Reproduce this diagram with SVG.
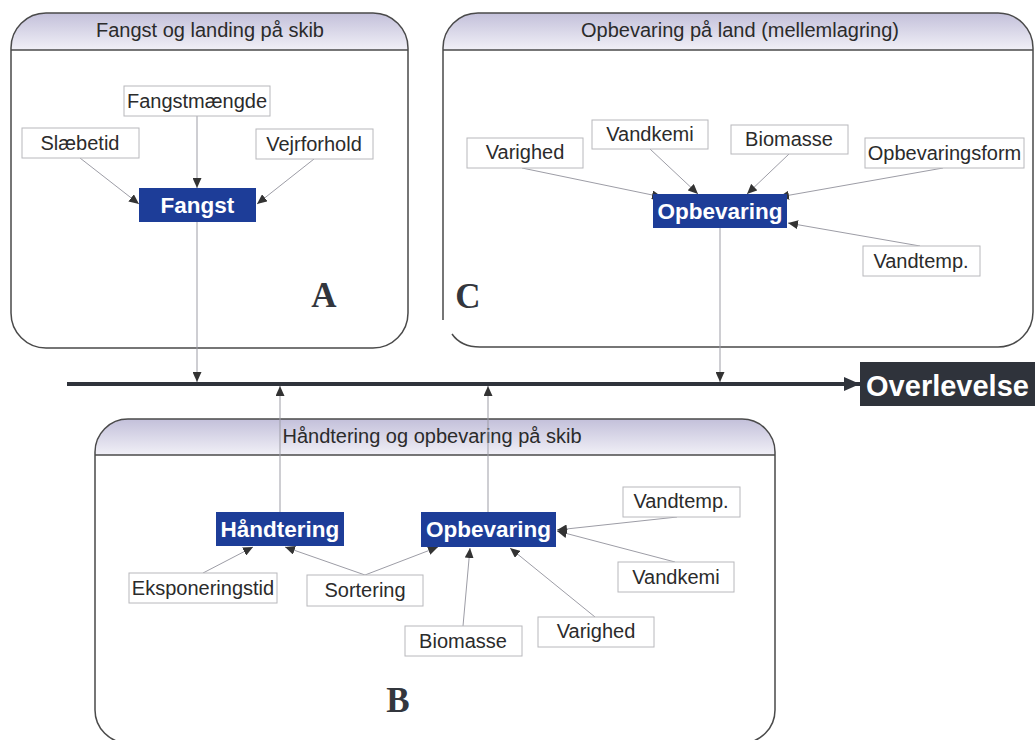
<svg xmlns="http://www.w3.org/2000/svg" width="1035" height="740" viewBox="0 0 1035 740">
<defs>
<linearGradient id="hdr" x1="0" y1="0" x2="0" y2="1">
<stop offset="0" stop-color="#c3c0da"/>
<stop offset="1" stop-color="#f1f0f7"/>
</linearGradient>
<marker id="ah" markerUnits="userSpaceOnUse" markerWidth="10" markerHeight="9" refX="10" refY="4.5" orient="auto">
<path d="M0,0 L10,4.5 L0,9 z" fill="#333"/>
</marker>
<marker id="ahBig" markerUnits="userSpaceOnUse" markerWidth="16" markerHeight="14" refX="16" refY="7" orient="auto">
<path d="M0,0 L16,7 L0,14 z" fill="#2f333b"/>
</marker>
<style>
.frame{fill:none;stroke:#4a4a4a;stroke-width:1.5}
.hline{stroke:#4a4a4a;stroke-width:1.5}
.hdr{fill:url(#hdr)}
.title{font-family:"Liberation Sans",Arial,sans-serif;font-size:20px;fill:#2b2b2b;text-anchor:middle}
.box{fill:#fff;stroke:#b8b8bc;stroke-width:1}
.lbl{font-family:"Liberation Sans",Arial,sans-serif;font-size:20px;fill:#2b2b2b;text-anchor:middle}
.key{fill:#1d3d98}
.klbl{font-family:"Liberation Sans",Arial,sans-serif;font-size:22.5px;font-weight:bold;fill:#fff;text-anchor:middle}
.letter{font-family:"Liberation Serif","Times New Roman",serif;font-size:35px;font-weight:bold;fill:#33363d;text-anchor:middle}
.con{fill:none;stroke:#9d9da6;stroke-width:1;marker-end:url(#ah)}
.main{fill:none;stroke:#2f333b;stroke-width:4;marker-end:url(#ahBig)}
</style>
</defs>
<rect width="1035" height="740" fill="#fff"/>

<g id="container-A">
<path class="hdr" d="M11,50 L11,48 A35,35 0 0 1 46,13 L373,13 A35,35 0 0 1 408,48 L408,50 z"/>
<rect class="frame" x="11" y="13" width="397" height="335" rx="35" ry="35"/>
<line class="hline" x1="11" y1="50" x2="408" y2="50"/>
<text class="title" x="210" y="37">Fangst og landing på skib</text>
<text class="letter" x="324" y="307">A</text>
</g>

<g id="container-C">
<path class="hdr" d="M443,50 L443,48 A35,35 0 0 1 478,13 L998,13 A35,35 0 0 1 1033,48 L1033,50 z"/>
<path class="frame" d="M452,334 Q461,347 480,347 L998,347 A35,35 0 0 0 1033,312 L1033,48 A35,35 0 0 0 998,13 L478,13 A35,35 0 0 0 443,48 L443,320"/>
<line class="hline" x1="443" y1="50" x2="1033" y2="50"/>
<text class="title" x="740" y="37">Opbevaring på land (mellemlagring)</text>
<text class="letter" x="468" y="308">C</text>
</g>

<g id="container-B">
<path class="hdr" d="M95,455 L95,452 A33,33 0 0 1 128,419 L742,419 A33,33 0 0 1 775,452 L775,455 z"/>
<rect class="frame" x="95" y="419" width="680" height="324" rx="33" ry="33"/>
<line class="hline" x1="95" y1="455" x2="775" y2="455"/>
<text class="title" x="432" y="443">Håndtering og opbevaring på skib</text>
<text class="letter" x="398" y="712">B</text>
</g>

<g id="connectors">
<line class="main" x1="67" y1="384" x2="860" y2="384"/>
<line class="con" x1="80" y1="158" x2="139" y2="204"/>
<line class="con" x1="197" y1="116" x2="197" y2="188"/>
<line class="con" x1="314" y1="159" x2="257" y2="204"/>
<line class="con" x1="197" y1="222" x2="197" y2="382"/>
<line class="con" x1="522" y1="168" x2="662" y2="197"/>
<line class="con" x1="650" y1="149" x2="698" y2="194"/>
<line class="con" x1="789" y1="154" x2="747" y2="194"/>
<line class="con" x1="943" y1="168" x2="779" y2="197"/>
<line class="con" x1="920" y1="246" x2="788" y2="223"/>
<line class="con" x1="720" y1="228" x2="720" y2="382"/>
<line class="con" x1="280" y1="512" x2="280" y2="386"/>
<line class="con" x1="488" y1="512" x2="488" y2="386"/>
<line class="con" x1="203" y1="573" x2="253" y2="547"/>
<line class="con" x1="365" y1="575" x2="285" y2="547"/>
<line class="con" x1="365" y1="575" x2="438" y2="547"/>
<line class="con" x1="463" y1="626" x2="470" y2="548"/>
<line class="con" x1="595" y1="617" x2="510" y2="548"/>
<line class="con" x1="675" y1="562" x2="557" y2="531"/>
<line class="con" x1="677" y1="517" x2="557" y2="530"/>
</g>

<g id="node-fangstmaengde"><rect class="box" x="124" y="86" width="146" height="30"/><text class="lbl" x="197" y="108">Fangstmængde</text></g>
<g id="node-slaebetid"><rect class="box" x="22" y="128" width="117" height="30"/><text class="lbl" x="80" y="150">Slæbetid</text></g>
<g id="node-vejrforhold"><rect class="box" x="256" y="129" width="117" height="30"/><text class="lbl" x="314" y="151">Vejrforhold</text></g>
<g id="node-fangst"><rect class="key" x="139" y="188" width="117" height="34"/><text class="klbl" x="197.5" y="213">Fangst</text></g>

<g id="node-c-varighed"><rect class="box" x="467" y="138" width="116" height="30"/><text class="lbl" x="525" y="159">Varighed</text></g>
<g id="node-c-vandkemi"><rect class="box" x="592" y="120" width="116" height="29"/><text class="lbl" x="650" y="141">Vandkemi</text></g>
<g id="node-c-biomasse"><rect class="box" x="731" y="125" width="117" height="29"/><text class="lbl" x="789" y="146">Biomasse</text></g>
<g id="node-c-opbevaringsform"><rect class="box" x="865" y="138" width="159" height="30"/><text class="lbl" x="944.5" y="160">Opbevaringsform</text></g>
<g id="node-c-opbevaring"><rect class="key" x="653" y="194" width="134" height="34"/><text class="klbl" x="720" y="219">Opbevaring</text></g>
<g id="node-c-vandtemp"><rect class="box" x="863" y="246" width="117" height="30"/><text class="lbl" x="921" y="268">Vandtemp.</text></g>

<g id="node-overlevelse"><rect x="860" y="362" width="180" height="44" fill="#2f333b"/><text x="947.5" y="396" font-family="Liberation Sans, Arial, sans-serif" font-size="29" font-weight="bold" fill="#fff" text-anchor="middle">Overlevelse</text></g>

<g id="node-b-haandtering"><rect class="key" x="216" y="512" width="128" height="34"/><text class="klbl" x="280" y="537">Håndtering</text></g>
<g id="node-b-opbevaring"><rect class="key" x="421" y="512" width="135" height="35"/><text class="klbl" x="488.5" y="537">Opbevaring</text></g>
<g id="node-b-eksponeringstid"><rect class="box" x="129" y="573" width="148" height="30"/><text class="lbl" x="203" y="595">Eksponeringstid</text></g>
<g id="node-b-sortering"><rect class="box" x="307" y="575" width="116" height="31"/><text class="lbl" x="365" y="597">Sortering</text></g>
<g id="node-b-vandtemp"><rect class="box" x="623" y="487" width="117" height="30"/><text class="lbl" x="681" y="508">Vandtemp.</text></g>
<g id="node-b-vandkemi"><rect class="box" x="618" y="562" width="116" height="30"/><text class="lbl" x="676" y="584">Vandkemi</text></g>
<g id="node-b-varighed"><rect class="box" x="538" y="617" width="116" height="30"/><text class="lbl" x="596" y="638">Varighed</text></g>
<g id="node-b-biomasse"><rect class="box" x="405" y="626" width="117" height="30"/><text class="lbl" x="463" y="648">Biomasse</text></g>
</svg>
